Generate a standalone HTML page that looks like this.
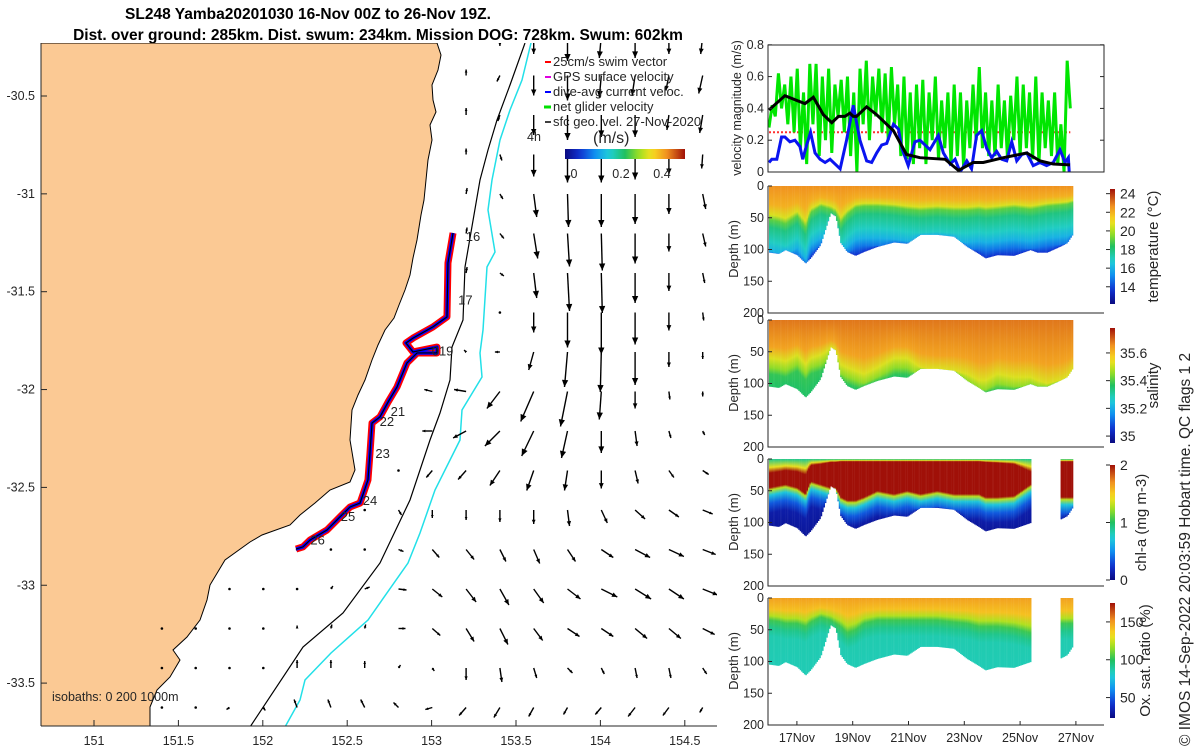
<!DOCTYPE html>
<html><head><meta charset="utf-8"><style>
body{margin:0;background:#fff;}
svg{display:block;font-family:"Liberation Sans","DejaVu Sans",sans-serif;}
text{fill:#262626;}
</style></head><body>
<svg id="root" width="1200" height="747" viewBox="0 0 1200 747" xmlns="http://www.w3.org/2000/svg">
<defs>
<clipPath id="mapclip"><rect x="41" y="43" width="676" height="683"/></clipPath>
<clipPath id="velclip"><rect x="768" y="45" width="336" height="127"/></clipPath>
</defs>
<g font-weight="bold" font-size="15.5">
<text x="308" y="19" text-anchor="middle" style="fill:#000">SL248 Yamba20201030 16-Nov 00Z to 26-Nov 19Z.</text>
<text x="378" y="40" text-anchor="middle" style="fill:#000">Dist. over ground: 285km. Dist. swum: 234km. Mission DOG: 728km. Swum: 602km</text>
</g>
<g id="map">
<g clip-path="url(#mapclip)">
<path fill="#fbc994" stroke="#000" stroke-width="1" d="M41,43 L437,43 L441,55 L438,70 L432,85 L433,100 L436,112 L430,125 L432,140 L428,160 L426,180 L424,200 L421,215 L417,240 L413,258 L410,275 L405,290 L399,305 L394,318 L385,330 L378,345 L372,360 L365,380 L358,395 L352,410 L350,440 L355,470 L350,482 L330,490 L315,503 L300,515 L290,525 L262,535 L250,542 L225,560 L210,585 L207,600 L200,620 L187,637 L173,650 L180,660 L170,677 L157,690 L150,707 L150,726 L41,726 Z"/>
<g id="isobaths"></g>
<g id="arrows"></g>
<g id="track"></g>
</g>
<line x1="41" y1="43" x2="41" y2="726" stroke="#262626"/>
<line x1="41" y1="726" x2="717" y2="726" stroke="#262626"/>
<g id="mapticks" font-size="12.5"></g>
<text x="52" y="701" font-size="12.5">isobaths: 0  200  1000m</text>
<g font-size="13">
<line x1="545" y1="62" x2="551" y2="62" stroke="#f00" stroke-width="2"/><text x="553" y="66">25cm/s swim vector</text>
<line x1="545" y1="77" x2="551" y2="77" stroke="#e000e0" stroke-width="2"/><text x="553" y="81">GPS surface velocity</text>
<line x1="545" y1="92" x2="551" y2="92" stroke="#0000ff" stroke-width="2"/><text x="553" y="96">dive-avg current veloc.</text>
<line x1="544" y1="107" x2="551" y2="107" stroke="#00e000" stroke-width="3"/><text x="553" y="111">net glider velocity</text>
<line x1="545" y1="122" x2="551" y2="122" stroke="#000" stroke-width="1.5"/><text x="553" y="126">sfc geo. vel. 27-Nov-2020</text>
</g>
<text x="527" y="141" font-size="12.5">4h</text>
<text x="593" y="143" font-size="16">(m/s)</text>
<rect id="mapcb" x="565" y="149" width="120" height="10"/>
<g font-size="12.5">
<text x="574" y="178" text-anchor="middle">0</text><text x="621" y="178" text-anchor="middle">0.2</text><text x="662" y="178" text-anchor="middle">0.4</text>
</g>
</g>
<g id="right"></g>
<text transform="translate(1190,746) rotate(-90)" font-size="15.5">© IMOS 14-Sep-2022 20:03:59 Hobart time. QC flags 1  2</text>
</svg>
<script>
// ===== velocity panel data =====
const blackDays=[16.0,16.57,17.29,17.59,17.95,18.25,18.49,18.72,18.90,19.02,19.14,19.50,19.86,20.46,20.93,21.41,22.31,22.79,23.32,23.68,24.40,25.24,25.71,26.19,26.79];
const blackVel=[0.39,0.48,0.43,0.47,0.36,0.31,0.35,0.35,0.37,0.35,0.35,0.41,0.36,0.26,0.11,0.09,0.08,0.01,0.06,0.06,0.09,0.12,0.07,0.05,0.045];
const blueDays=[16.0,16.10,16.28,16.45,16.57,16.75,16.93,17.11,17.21,17.35,17.49,17.65,17.83,18.01,18.19,18.37,18.55,18.78,19.02,19.26,19.50,19.68,19.86,20.04,20.22,20.46,20.64,20.76,20.99,21.23,21.41,21.59,21.77,22.07,22.25,22.49,22.67,22.85,23.09,23.26,23.44,23.62,23.80,23.98,24.16,24.34,24.52,24.70,24.88,25.06,25.24,25.47,25.71,25.95,26.19,26.43,26.61,26.73,26.76];
const blueVel=[0.06,0.08,0.08,0.22,0.22,0.19,0.2,0.16,0.08,0.17,0.25,0.12,0.08,0.06,0.08,0.05,0.02,0.2,0.42,0.2,0.07,0.06,0.12,0.17,0.18,0.30,0.27,0.15,0.04,0.19,0.2,0.17,0.14,0.23,0.12,0.05,0.08,0.0,0.07,0.02,0.23,0.26,0.15,0.09,0.13,0.08,0.07,0.19,0.07,0.11,0.12,0.04,0.06,0.04,0.06,0.14,0.06,0.09,0.0];
const greenStart=16.0, greenStep=0.1125;
const greenVel=[0.28,0.42,0.35,0.62,0.4,0.55,0.3,0.6,0.25,0.65,0.15,0.5,
0.05,0.68,0.3,0.68,0.1,0.6,0.2,0.65,0.12,0.55,0.35,0.58,
0.25,0.6,0.1,0.5,0.0,0.65,0.3,0.7,0.2,0.6,0.35,0.65,
0.25,0.62,0.2,0.66,0.3,0.55,0.1,0.6,0.08,0.5,0.05,0.55,
0.15,0.58,0.05,0.5,0.2,0.6,0.08,0.45,0.15,0.5,0.05,0.55,
0.1,0.5,0.03,0.45,0.15,0.55,0.2,0.66,0.15,0.5,0.1,0.45,
0.1,0.55,0.15,0.45,0.08,0.48,0.2,0.6,0.1,0.55,0.15,0.5,
0.08,0.6,0.05,0.5,0.15,0.45,0.1,0.5,0.05,0.3,0.0,0.7,0.4];
const swimSpeed=0.25;
const velTicks=[0,0.2,0.4,0.6,0.8];
const dateTicks=[17,19,21,23,25,27];
const dateLabels=["17Nov","19Nov","21Nov","23Nov","25Nov","27Nov"];
// ===== section data (depth panels) =====
const secDays=[16.0,16.33,16.57,16.99,17.29,17.47,17.83,18.19,18.37,18.55,18.78,19.08,19.38,19.86,20.46,20.93,21.41,22.01,22.61,23.08,23.50,23.74,24.16,24.76,25.35,25.6,25.95,26.45,26.67,26.88];
const bottomDepth=[105,107,101,109,122,114,93,43,48,90,104,110,104,96,89,91,77,77,80,96,107,114,109,110,101,105,105,95,90,76];
const tempLayer=[53,56,60,47,66,42,32,37,42,58,45,34,32,32,34,37,39,37,39,39,37,39,37,34,37,35,32,30,29,26];
const salYellow=[60,62,65,55,70,60,55,45,50,70,75,80,85,75,60,60,75,80,80,85,95,95,85,90,90,95,100,95,90,80];
const chlTop=[22,20,18,20,25,10,8,5,5,4,4,4,4,4,4,4,4,4,4,4,4,5,6,8,20,20,20,4,4,4];
const chlLayer=[45,42,40,45,55,35,40,45,45,60,65,65,60,50,55,50,55,50,55,55,55,60,60,58,40,40,40,60,60,60];
const oxLayer=[35,37,40,40,45,38,30,35,40,45,55,50,40,35,35,35,35,35,38,40,45,45,45,48,55,55,55,40,40,40];
const gapStart=25.4, gapEnd=26.45;
// ===== map data =====
const trackLon=[153.127,153.097,153.091,153.008,152.890,152.848,152.890,153.032,153.032,152.914,152.854,152.795,152.742,152.694,152.647,152.635,152.623,152.576,152.517,152.457,152.380,152.280,152.238,152.197];
const trackLat=[-31.200,-31.353,-31.629,-31.680,-31.737,-31.762,-31.808,-31.783,-31.813,-31.813,-31.864,-31.987,-32.064,-32.140,-32.171,-32.324,-32.462,-32.580,-32.600,-32.651,-32.718,-32.769,-32.804,-32.815];
const dayLabels=["16","17","019","21","22","23","24","25","26"];
const dayLabelLon=[153.245,153.200,153.065,152.800,152.735,152.710,152.635,152.505,152.325];
const dayLabelLat=[-31.216,-31.540,-31.800,-32.110,-32.160,-32.323,-32.564,-32.646,-32.766];
const lonTicks=[151,151.5,152,152.5,153,153.5,154,154.5];
const latTicks=[-30.5,-31,-31.5,-32,-32.5,-33,-33.5];
// geostrophic velocity field (cm/s, east & southward), rows top->bottom, 17 columns each
const N=null;
const geoU=[
[N,N,N,N,N,N,N,N,N,0,0,0,0,-2,0,0,-2],
[N,N,N,N,N,N,N,N,N,0,-3,0,0,-2,-3,-3,-4],
[N,N,N,N,N,N,N,N,N,0,-2,0,0,0,0,-2,-3],
[N,N,N,N,N,N,N,N,N,0,2,0,0,0,0,0,-1],
[N,N,N,N,N,N,N,N,N,1,3,3,1,0,0,0,3],
[N,N,N,N,N,N,N,N,N,1,4,4,2,1,0,0,3],
[N,N,N,N,N,N,N,N,N,1,4,3,2,1,0,0,2],
[N,N,N,N,N,N,N,N,N,N,1,0,0,0,0,0,1],
[N,N,N,N,N,N,N,N,N,-2,-5,-5,-3,-1,0,0,0],
[N,N,N,N,N,N,N,N,-8,-12,-13,-13,-7,-2,0,1,0],
[N,N,N,N,N,N,N,N,-10,-13,-15,-12,-6,0,2,2,2],
[N,N,N,N,N,N,N,1,-6,-8,-10,-7,-3,0,3,5,6],
[N,N,N,N,N,N,1,3,0,0,0,0,2,6,10,10,10],
[N,N,N,N,2,1,1,5,7,8,6,6,8,12,15,15,13],
[N,N,1,1,1,2,5,8,10,10,9,10,13,16,16,15,15],
[1,1,1,1,0,1,1,7,8,8,8,9,12,12,12,12,12],
[1,1,1,1,0,0,0,2,2,0,2,3,5,3,2,2,4],
[1,1,-3,2,-3,-3,-4,-5,-7,-7,-6,-5,-4,-6,-7,-6,-3]];
const geoV=[
[N,N,N,N,N,N,N,N,N,-5,10,18,25,22,22,18,18],
[N,N,N,N,N,N,N,N,N,-6,6,20,25,22,20,15,18],
[N,N,N,N,N,N,N,N,N,-7,6,20,25,22,22,15,18],
[N,N,N,N,N,N,N,N,N,-6,6,22,28,28,25,20,14],
[N,N,N,N,N,N,N,N,N,-6,5,23,33,33,30,20,15],
[N,N,N,N,N,N,N,N,N,-6,5,25,33,37,30,18,13],
[N,N,N,N,N,N,N,N,N,-6,3,25,38,40,30,18,10],
[N,N,N,N,N,N,N,N,N,N,2,20,35,42,32,18,8],
[N,N,N,N,N,N,N,N,N,-2,0,18,35,40,33,15,7],
[N,N,N,N,N,N,N,N,-2,-2,17,30,35,28,17,8,5],
[N,N,N,N,N,N,N,N,0,7,15,25,27,22,15,7,4],
[N,N,N,N,N,N,N,-1,7,9,15,20,20,18,13,7,4],
[N,N,N,N,N,N,2,5,8,10,12,14,16,13,9,7,4],
[N,N,N,N,0,1,1,2,8,10,12,14,12,8,8,7,5],
[N,N,0,0,0,-3,-2,1,8,13,16,14,10,8,10,10,6],
[0,0,0,0,-3,-4,-4,0,7,13,16,12,8,8,10,10,6],
[0,0,0,0,-8,-8,-7,-3,3,12,14,10,5,6,10,10,6],
[0,0,2,3,-8,-8,-8,-5,2,8,10,9,7,7,9,8,5]];
</script>
<script>
const NS="http://www.w3.org/2000/svg";
function mk(tag,attrs,parent){const e=document.createElementNS(NS,tag);for(const k in attrs)e.setAttribute(k,attrs[k]);if(parent)parent.appendChild(e);return e;}
const root=document.getElementById('root');
const defs=root.querySelector('defs');
const CM=[[0,[10,10,128]],[0.12,[16,48,208]],[0.25,[16,144,240]],[0.37,[32,208,216]],[0.5,[32,192,96]],[0.62,[160,224,32]],[0.72,[248,224,32]],[0.85,[240,144,32]],[1,[160,16,8]]];
function cmap(t){t=Math.max(0,Math.min(1,t));for(let i=1;i<CM.length;i++){if(t<=CM[i][0]){const a=CM[i-1],b=CM[i];const f=(t-a[0])/(b[0]-a[0]);const c=a[1].map((v,k)=>Math.round(v+(b[1][k]-v)*f));return `rgb(${c[0]},${c[1]},${c[2]})`;}}return 'rgb(160,16,8)';}
function cbGrad(id,vertical){const g=mk('linearGradient',{id:id,x1:0,y1:vertical?1:0,x2:vertical?0:1,y2:0},defs);for(let i=0;i<=20;i++)mk('stop',{offset:i/20,'stop-color':cmap(i/20)},g);return `url(#${id})`;}
// ===== MAP =====
const lonX=l=>94+(l-151)*168.8;
const latY=l=>96+(-30.5-l)*195.7;
document.getElementById('mapcb').setAttribute('fill',cbGrad('cbh',false));
const mt=document.getElementById('mapticks');
lonTicks.forEach(l=>{const x=lonX(l);
 const tk=mk('line',{x1:x,y1:726,x2:x,y2:720,stroke:'#262626'},mt);
 
 
 const t=mk('text',{x:x,y:745,'text-anchor':'middle'},mt);t.textContent=String(l);
 
 });
latTicks.forEach(l=>{const y=latY(l);
 const tk=mk('line',{x1:41,y1:y,x2:47,y2:y,stroke:'#262626'},mt);
 
 
 const t=mk('text',{x:35,y:y+4,'text-anchor':'end'},mt);t.textContent=String(l);
 
 });
const iso=document.getElementById('isobaths');
const p1=mk('polyline',{points:"525,43 510,85 497,120 488,150 480,180 465,267 463,320 452,347 450,380 440,413 430,440 410,500 380,563 343,613 303,647 250,727",fill:'none',stroke:'#000','stroke-width':1.2},iso);


const p2=mk('polyline',{points:"531,43 522,80 510,110 500,140 492,180 488,210 495,252 487,267 483,330 480,353 482,377 462,410 460,440 435,490 420,533 408,563 368,620 331,653 305,680 300,700 285,727",fill:'none',stroke:'#22e0e8','stroke-width':1.5},iso);


const ag=document.getElementById('arrows');
const colX=i=>229.5+33.8*(i-2);
const rowY=j=>36+39.5*j;
geoU.forEach((row,j)=>{row.forEach((u,i)=>{const v=geoV[j][i];if(u===null||v===null||v===undefined)return;
 const x0=colX(i),y0=rowY(j),dx=u,dy=v,x1=x0+dx,y1=y0+dy;const L=Math.hypot(dx,dy);
 const g=mk('g',{},ag);
 
 
 if(L<2.5){mk('circle',{cx:x0,cy:y0,r:1.3,fill:'#000'},g);return;}
 mk('line',{x1:x0,y1:y0,x2:x1,y2:y1,stroke:'#000','stroke-width':1.4},g);
 const h=Math.min(7,Math.max(3,L*0.3)),ux=dx/L,uy=dy/L;
 mk('polygon',{points:`${x1},${y1} ${x1-h*ux+h*0.45*uy},${y1-h*uy-h*0.45*ux} ${x1-h*ux-h*0.45*uy},${y1-h*uy+h*0.45*ux}`,fill:'#000'},g);
});});
const tg=document.getElementById('track');
const tpts=trackLon.map((l,i)=>lonX(l)+','+latY(trackLat[i])).join(' ');
const tr=mk('polyline',{points:tpts,fill:'none',stroke:'#ff0000','stroke-width':7,'stroke-linejoin':'round'},tg);


const tb=mk('polyline',{points:tpts,fill:'none',stroke:'#0000ff','stroke-width':3.5,'stroke-linejoin':'round'},tg);


const tk2=mk('polyline',{points:tpts,fill:'none',stroke:'#000','stroke-width':1.2},tg);


dayLabels.forEach((s,i)=>{const t=mk('text',{x:lonX(dayLabelLon[i]),y:latY(dayLabelLat[i])+5,'font-size':13,'text-anchor':'middle'},tg);t.textContent=s;
 
 });
// ===== RIGHT PANELS =====
const R=document.getElementById('right');
const X0=768,X1=1104;
const dayX=d=>769+27.9*(d-16);
const vy=v=>172-v*159;
const vp=mk('g',{},R);


const vc=mk('g',{'clip-path':'url(#velclip)'},vp);
const red=mk('line',{x1:dayX(16),x2:dayX(26.8),y1:vy(swimSpeed),y2:vy(swimSpeed),stroke:'#ff3030','stroke-width':2,'stroke-dasharray':'2,2'},vc);


const gp=greenVel.map((v,i)=>dayX(greenStart+i*greenStep)+','+vy(v)).join(' ');
const gl=mk('polyline',{points:gp,fill:'none',stroke:'#00e600','stroke-width':3},vc);


const bl=mk('polyline',{points:blueDays.map((d,i)=>dayX(d)+','+vy(blueVel[i])).join(' '),fill:'none',stroke:'#0a14f0','stroke-width':3},vc);


const kl=mk('polyline',{points:blackDays.map((d,i)=>dayX(d)+','+vy(blackVel[i])).join(' '),fill:'none',stroke:'#000','stroke-width':3},vc);


mk('rect',{x:X0,y:45,width:X1-X0,height:127,fill:'none',stroke:'#262626'},vp);
velTicks.forEach(v=>{const y=vy(v);mk('line',{x1:X0,x2:X0+4,y1:y,y2:y,stroke:'#262626'},vp);mk('line',{x1:X1,x2:X1-4,y1:y,y2:y,stroke:'#262626'},vp);
 const t=mk('text',{x:764,y:y+4,'text-anchor':'end','font-size':12.5},vp);t.textContent=String(v);
 
 });
const vl=mk('text',{transform:'translate(741,108) rotate(-90)','text-anchor':'middle','font-size':12.5},vp);vl.textContent='velocity magnitude (m/s)';


function interp(arr,d){if(d<=secDays[0])return arr[0];for(let i=1;i<secDays.length;i++){if(d<=secDays[i]){const f=(d-secDays[i-1])/(secDays[i]-secDays[i-1]);return arr[i-1]+(arr[i]-arr[i-1])*f;}}return arr[arr.length-1];}
let gid=0;
function section(top,name,cbTop,cbBot,vmin,vmax,ticks,tickLabels,label,gap,colfn,labelX){
 const g=mk('g',{},R);
 
 
 const dy=d=>top+d*0.635;
 const dEnd=26.88;
 for(let d=16;d<=dEnd;d+=0.05){
  if(gap && d>gapStart && d<gapEnd)continue;
  const bot=interp(bottomDepth,d);const stops=colfn(d,bot);
  const id='sg'+(gid++);
  const lg=mk('linearGradient',{id:id,x1:0,y1:top,x2:0,y2:dy(bot),gradientUnits:'userSpaceOnUse'},defs);
  stops.forEach(s=>mk('stop',{offset:Math.max(0,Math.min(1,s[0]/bot)),'stop-color':cmap((s[1]-vmin)/(vmax-vmin))},lg));
  mk('rect',{x:dayX(d),y:top,width:1.6,height:bot*0.635,fill:`url(#${id})`},g);
 }
 mk('polyline',{points:`${X0},${top} ${X0},${top+127} ${X1},${top+127}`,fill:'none',stroke:'#262626'},g);
 [0,50,100,150,200].forEach(v=>{const y=dy(v);mk('line',{x1:X0,x2:X0+4,y1:y,y2:y,stroke:'#262626'},g);
  const t=mk('text',{x:764,y:y+4,'text-anchor':'end','font-size':12.5},g);t.textContent=String(v);
  
  });
 const yl=mk('text',{transform:`translate(738,${top+63}) rotate(-90)`,'text-anchor':'middle','font-size':13},g);yl.textContent='Depth (m)';
 
 
 const cbf=cbGrad('cb'+name,true);
 const cb=mk('rect',{x:1110,y:cbTop,width:5,height:cbBot-cbTop,fill:cbf},g);
 
 
 ticks.forEach((v,i)=>{const y=cbBot-(v-vmin)/(vmax-vmin)*(cbBot-cbTop);mk('line',{x1:1106,x2:1110,y1:y,y2:y,stroke:'#262626'},g);
  const t=mk('text',{x:1120,y:y+5,'font-size':14},g);t.textContent=tickLabels[i];
  
  });
 const cl=mk('text',{transform:`translate(${labelX},${(cbTop+cbBot)/2}) rotate(-90)`,'text-anchor':'middle','font-size':15},g);cl.textContent=label;
 
 
 return g;
}
section(186,'temperature-panel',189,304,12.15,24.5,[14,16,18,20,22,24],['14','16','18','20','22','24'],'temperature (°C)',false,(d,b)=>{const L=interp(tempLayer,d);return [[0,22.6],[L*0.55,22.0],[L*0.85,20.6],[L,19.0],[L+12,17.9],[L+35,17.0],[L+50,16.0],[L+62,14.8],[L+75,13.6],[b,13.6]];},1158);
section(320,'salinity-panel',328,443,34.95,35.78,[35,35.2,35.4,35.6],['35','35.2','35.4','35.6'],'salinity',false,(d,b)=>{const L=interp(salYellow,d);return [[0,35.68],[L*0.7,35.63],[L,35.52],[L+15,35.45],[L+25,35.38],[b,35.36]];},1158);
section(459,'chl-panel',465,580,0,2,[0,1,2],['0','1','2'],'chl-a (mg m-3)',true,(d,b)=>{const T=interp(chlTop,d),L=interp(chlLayer,d);return [[0,0.9],[Math.max(1,T*0.6),1.4],[T,2],[L,2],[L+4,1.3],[L+12,0.7],[L+25,0.35],[L+40,0.12],[b,0.08]];},1146);
section(598,'oxygen-panel',603,718,23,175,[50,100,150],['50','100','150'],'Ox. sat. ratio (%)',true,(d,b)=>{const L=interp(oxLayer,d);return [[0,148],[L*0.5,140],[L*0.8,120],[L,103],[L+12,92],[L+25,86],[b,85]];},1150);
const xg=mk('g',{},R);


dateTicks.forEach((d,i)=>{const x=dayX(d);mk('line',{x1:x,x2:x,y1:725,y2:721,stroke:'#262626'},xg);
 const t=mk('text',{x:x,y:742,'text-anchor':'middle','font-size':12.5},xg);t.textContent=dateLabels[i];
 
 });
</script>
</body></html>
